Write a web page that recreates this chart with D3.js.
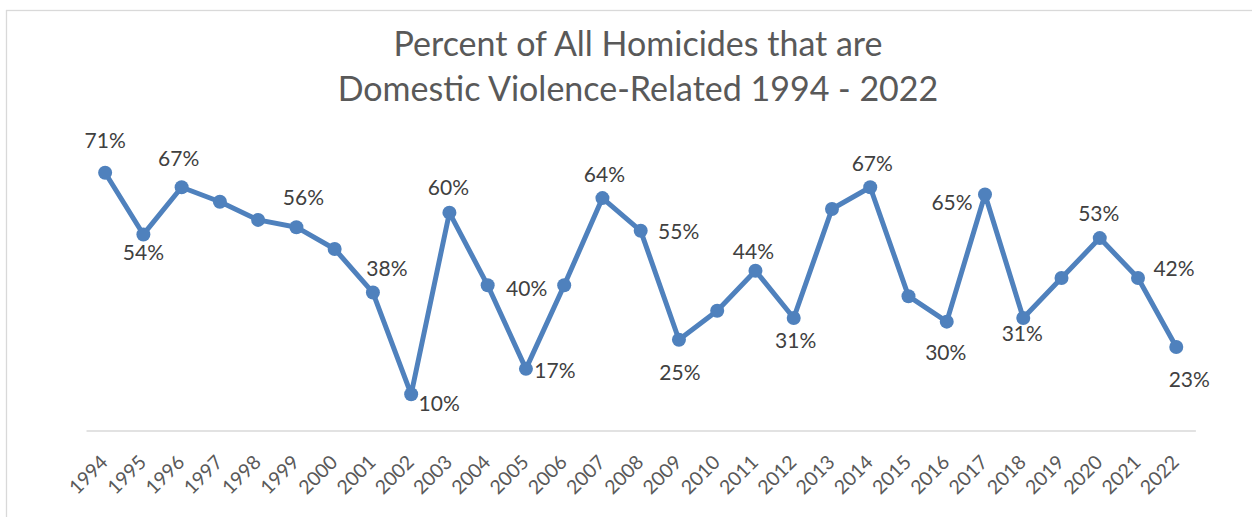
<!DOCTYPE html>
<html>
<head>
<meta charset="utf-8">
<script src="https://cdn.jsdelivr.net/npm/d3@7/dist/d3.min.js"></script>
<style>
  html, body { margin: 0; padding: 0; background: #ffffff; }
  svg { display: block; }
</style>
</head>
<body>
<svg id="chart" width="1252" height="517"></svg>
<script>
// Share of all homicides that were domestic-violence related, by year
const years = ["1994","1995","1996","1997","1998","1999","2000","2001","2002","2003",
               "2004","2005","2006","2007","2008","2009","2010","2011","2012","2013",
               "2014","2015","2016","2017","2018","2019","2020","2021","2022"];
const percents = [71, 54, 67, 63, 58, 56, 50, 38, 10, 60,
                  40, 17, 40, 64, 55, 25, 33, 44, 31, 61,
                  67, 37, 30, 65, 31, 42, 53, 42, 23];
const labelledYears = ["1994","1995","1996","1999","2001","2002","2003","2004","2005","2007",
                       "2008","2009","2011","2012","2014","2016","2017","2018","2020","2021","2022"];
const titleLines = ["Percent of All Homicides that are",
                    "Domestic Violence-Related 1994 - 2022"];

// Data label offsets from each marker (text centre), per labelled year
const labelOffset = {
  "1994": [0, -32], "1995": [0, 18], "1996": [-3, -29], "1999": [7, -30],
  "2001": [14, -24], "2002": [28, 9], "2003": [-1, -25], "2004": [39, 3],
  "2005": [29, 2], "2007": [2, -24], "2008": [38, 1], "2009": [1, 33],
  "2011": [-2, -19], "2012": [2, 22], "2014": [2, -24], "2016": [-1, 31],
  "2017": [-33, 8], "2018": [-1, 15], "2020": [-1, -25], "2021": [36, -10],
  "2022": [13, 32]
};

const FONT = "Lato, 'Open Sans', sans-serif";
const BLUE = "#4f81bd";

const svg = d3.select("#chart");

// chart frame
svg.append("rect")
  .attr("x", 6.5).attr("y", 10.5)
  .attr("width", 1400).attr("height", 700)
  .attr("fill", "#ffffff")
  .attr("stroke", "#d9d9d9").attr("stroke-width", 1.3);

// title
const title = svg.append("text")
  .attr("text-anchor", "middle")
  .attr("font-family", FONT)
  .attr("font-size", 34)
  .attr("fill", "#595959");
titleLines.forEach((t, i) => {
  title.append("tspan").attr("x", 638).attr("y", 56 + i * 45).text(t);
});

const x = d3.scaleBand().domain(years).range([86, 1195.4]).padding(0);
const y = d3.scaleLinear().domain([0, 80]).range([430.6, 140]);
const cx = d => x(d) + x.bandwidth() / 2;

// category axis
const axis = d3.axisBottom(x).tickSize(0).tickPadding(0);
const gAxis = svg.append("g").attr("transform", `translate(0,${y(0)})`).call(axis);
gAxis.select(".domain").attr("stroke", "#d9d9d9").attr("stroke-width", 1.5);
gAxis.selectAll(".tick text")
  .attr("font-family", FONT)
  .attr("font-size", 19.5)
  .attr("fill", "#595959")
  .attr("text-anchor", "end")
  .attr("dy", null)
  .attr("y", null)
  .attr("transform", "translate(4,33) rotate(-45)");

const points = years.map((yr, i) => ({ year: yr, value: percents[i] }));

// line
svg.append("path")
  .datum(points)
  .attr("fill", "none")
  .attr("stroke", BLUE)
  .attr("stroke-width", 5)
  .attr("stroke-linejoin", "round")
  .attr("d", d3.line().x(d => cx(d.year)).y(d => y(d.value)));

// markers
svg.append("g").selectAll("circle")
  .data(points)
  .join("circle")
  .attr("cx", d => cx(d.year))
  .attr("cy", d => y(d.value))
  .attr("r", 7)
  .attr("fill", BLUE);

// data labels
svg.append("g").selectAll("text")
  .data(points.filter(d => labelledYears.includes(d.year)))
  .join("text")
  .attr("x", d => cx(d.year) + labelOffset[d.year][0])
  .attr("y", d => y(d.value) + labelOffset[d.year][1])
  .attr("dy", "0.36em")
  .attr("text-anchor", "middle")
  .attr("font-family", FONT)
  .attr("font-size", 21)
  .attr("fill", "#404040")
  .text(d => d.value + "%");
</script>
</body>
</html>
